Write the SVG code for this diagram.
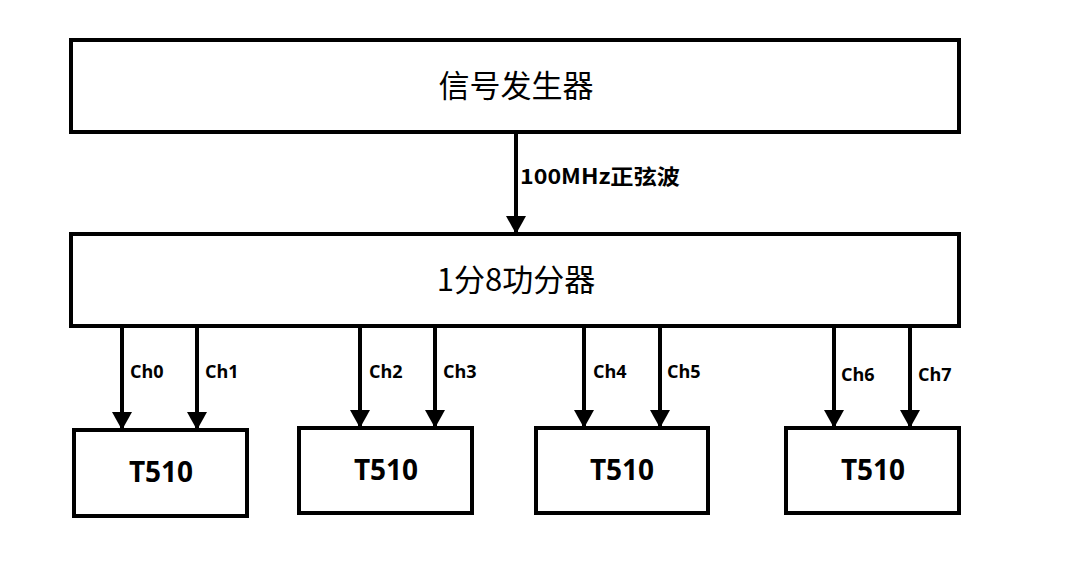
<svg xmlns="http://www.w3.org/2000/svg" width="1070" height="577" viewBox="0 0 1070 577">
<style>
.box{fill:#fff;stroke:#000;stroke-width:4}
.big{font-family:"Noto Sans CJK SC","Noto Sans",sans-serif;font-size:31px;fill:#000;text-anchor:middle}
.t{font-family:"Open Sans","Noto Sans",sans-serif;font-weight:bold;font-size:28px;fill:#000;text-anchor:middle}
.ch{font-family:"Open Sans","Noto Sans",sans-serif;font-weight:bold;font-size:18px;fill:#000}
.lbl{font-family:"Noto Sans CJK SC","Noto Sans",sans-serif;font-weight:bold;font-size:21px;fill:#000}
.line{stroke:#000;stroke-width:4;fill:none}
</style>
<defs>
<marker id="ah" markerUnits="userSpaceOnUse" markerWidth="18" markerHeight="20" refX="18" refY="10" orient="auto" viewBox="0 0 18 20">
<path d="M0,0 L18,10 L0,20 Z" fill="#000"/>
</marker>
</defs>
<rect width="1070" height="577" fill="#fff"/>
<g id="connectors">
<line class="line" x1="516" y1="132" x2="516" y2="234" marker-end="url(#ah)"/>
<line class="line" x1="122" y1="326" x2="122" y2="430" marker-end="url(#ah)"/>
<line class="line" x1="197" y1="326" x2="197" y2="430" marker-end="url(#ah)"/>
<line class="line" x1="360" y1="326" x2="360" y2="428" marker-end="url(#ah)"/>
<line class="line" x1="435" y1="326" x2="435" y2="428" marker-end="url(#ah)"/>
<line class="line" x1="584" y1="326" x2="584" y2="428" marker-end="url(#ah)"/>
<line class="line" x1="660" y1="326" x2="660" y2="428" marker-end="url(#ah)"/>
<line class="line" x1="834" y1="326" x2="834" y2="428" marker-end="url(#ah)"/>
<line class="line" x1="910" y1="326" x2="910" y2="428" marker-end="url(#ah)"/>
<text class="lbl" x="520" y="184" textLength="160" lengthAdjust="spacingAndGlyphs">100MHz正弦波</text>
<text class="ch" x="130" y="378">Ch0</text>
<text class="ch" x="205" y="378">Ch1</text>
<text class="ch" x="369" y="378">Ch2</text>
<text class="ch" x="443" y="378">Ch3</text>
<text class="ch" x="593" y="378">Ch4</text>
<text class="ch" x="667" y="378">Ch5</text>
<text class="ch" x="841" y="381">Ch6</text>
<text class="ch" x="918" y="381">Ch7</text>
</g>
<g id="signal-generator">
<rect class="box" x="71" y="40" width="888" height="92"/>
<text class="big" x="516" y="97">信号发生器</text>
</g>
<g id="splitter">
<rect class="box" x="71" y="234" width="888" height="92"/>
<text class="big" x="516" y="291">1分8功分器</text>
</g>
<g id="t510-1">
<rect class="box" x="74" y="430" width="173" height="86"/>
<text class="t" x="161" y="482">T510</text>
</g>
<g id="t510-2">
<rect class="box" x="299" y="428" width="173" height="85"/>
<text class="t" x="386" y="480">T510</text>
</g>
<g id="t510-3">
<rect class="box" x="536" y="428" width="172" height="85"/>
<text class="t" x="622" y="480">T510</text>
</g>
<g id="t510-4">
<rect class="box" x="786" y="428" width="173" height="85"/>
<text class="t" x="873" y="480">T510</text>
</g>
</svg>
